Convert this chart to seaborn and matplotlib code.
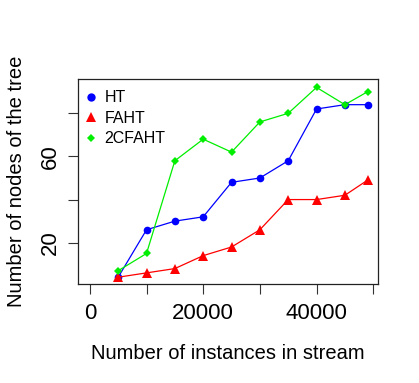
import pandas as pd
import seaborn as sns
import matplotlib.pyplot as plt
from matplotlib.lines import Line2D

# Datos
instancias = [5000, 10000, 15000, 20000, 25000, 30000, 35000, 40000, 45000, 49000]
nodos_ht = [4, 26, 30, 32, 48, 50, 58, 82, 84, 84]
nodos_faht = [4, 6, 8, 14, 18, 26, 40, 40, 42, 49]
nodos_2cfaht = [7, 15, 58, 68, 62, 76, 80, 92, 84, 90]

metodos = ['HT', 'FAHT', '2CFAHT']
colores = {'HT': '#0000FF', 'FAHT': '#FF0000', '2CFAHT': '#00EE00'}
marcadores = {'HT': 'o', 'FAHT': '^', '2CFAHT': 'D'}
tamanos = {'HT': 5.5, 'FAHT': 6.5, '2CFAHT': 3.6}

df = pd.DataFrame({
    'instancias': instancias * 3,
    'nodos': nodos_ht + nodos_faht + nodos_2cfaht,
    'metodo': [m for m in metodos for _ in instancias],
})

sns.set_style('white')
plt.rcParams['font.family'] = ['Liberation Sans', 'DejaVu Sans']
plt.rcParams['text.color'] = 'black'
plt.rcParams['axes.labelcolor'] = 'black'
plt.rcParams['xtick.color'] = 'black'
plt.rcParams['ytick.color'] = 'black'

fig = plt.figure(figsize=(4.19, 3.83), dpi=100)
ax = fig.add_axes([0.186, 0.2585, 0.716, 0.5352])

for m in metodos:
    sns.lineplot(data=df[df['metodo'] == m], x='instancias', y='nodos',
                 color=colores[m], marker=marcadores[m], markersize=tamanos[m],
                 markeredgewidth=0, linewidth=0.9, ax=ax, legend=False)

ax.set_xlim(-2100, 50830)
ax.set_ylim(0.85, 95.9)
ax.set_xticks([0, 10000, 20000, 30000, 40000, 50000])
ax.set_xticklabels(['0', '', '20000', '', '40000', ''])
ax.set_yticks([20, 40, 60, 80])
ax.set_yticklabels(['20', '', '60', ''], rotation=90, va='center')
ax.tick_params(axis='both', direction='out', length=7, width=0.8, color='#333333',
               labelsize=16, bottom=True, left=True)
ax.tick_params(axis='x', pad=7)
ax.tick_params(axis='y', pad=5)

for s in ax.spines.values():
    s.set_color('#222222')
    s.set_linewidth(0.9)

ax.set_xlabel('Number of instances in stream', fontsize=14.5, labelpad=14)
ax.set_ylabel('Number of nodes of the tree', fontsize=14.5, labelpad=10)

handles = [Line2D([], [], linestyle='none', marker=marcadores[m], color=colores[m],
                  markersize=tamanos[m] + 0.5, markeredgewidth=0) for m in metodos]
ax.legend(handles, metodos, loc='upper left', frameon=False, fontsize=11.5,
          handlelength=0.8, handletextpad=0.45, labelspacing=0.35,
          borderaxespad=0.3, bbox_to_anchor=(-0.015, 1.0))

fig.savefig('out.png', dpi=100)
